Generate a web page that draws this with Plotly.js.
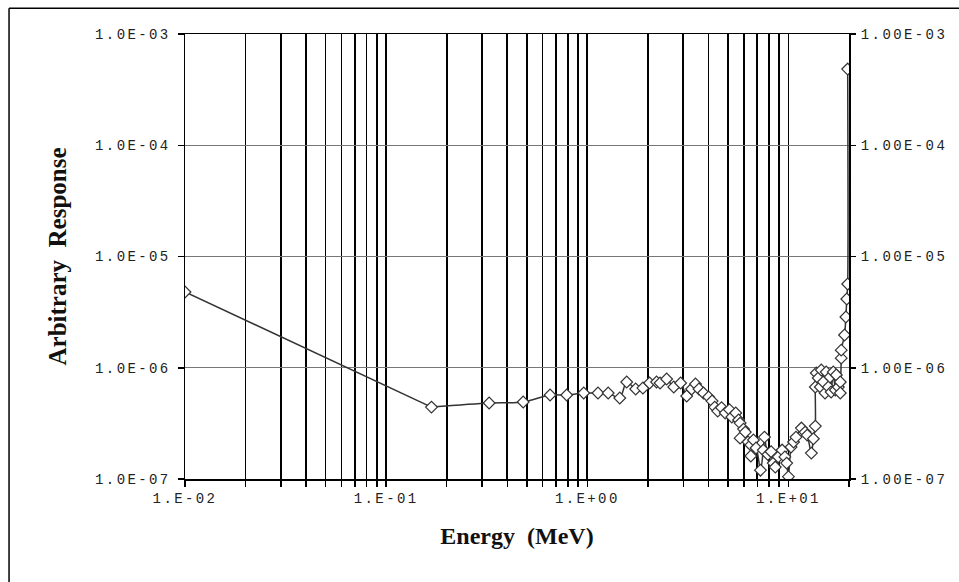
<!DOCTYPE html>
<html>
<head>
<meta charset="utf-8">
<script src="https://cdn.plot.ly/plotly-3.0.1.min.js"></script>
<style>
html,body{margin:0;padding:0;background:#fff;}
#chart{width:959px;height:582px;}
.xtick text, .ytick text, .y2tick text{letter-spacing:2.4px;}
</style>
</head>
<body>
<div id="chart"></div>
<script>
// Energy (MeV)
const energy = [0.01, 0.168, 0.325, 0.48, 0.653, 0.79, 0.96, 1.13, 1.27, 1.45, 1.57, 1.74, 1.89, 2.04, 2.21, 2.3, 2.48, 2.69, 2.91, 3.12, 3.30, 3.45, 3.59, 3.78, 4.01, 4.17, 4.30, 4.45, 4.65, 4.85, 5.09, 5.23, 5.47, 5.65, 5.75, 5.98, 5.75, 6.10, 6.3, 6.5, 6.7, 6.5, 6.9, 7.26, 7.5, 7.6, 7.9, 8.2, 8.4, 8.6, 8.9, 9.3, 9.6, 9.8, 10.0, 10.3, 10.6, 10.9, 11.6, 12.1, 12.4, 13.0, 13.3, 13.6, 13.6, 13.75, 14.06, 14.4, 14.56, 14.9, 15.2, 15.4, 15.8, 16.1, 16.3, 16.7, 17.1, 17.3, 17.7, 18.1, 18.1, 18.3, 18.3, 19.0, 19.3, 19.5, 19.7, 19.7];
// Arbitrary response
const response = [4.8e-6, 4.43e-7, 4.82e-7, 4.92e-7, 5.69e-7, 5.69e-7, 5.93e-7, 5.93e-7, 5.93e-7, 5.35e-7, 7.44e-7, 6.44e-7, 6.57e-7, 7.29e-7, 7.44e-7, 7.29e-7, 7.92e-7, 6.71e-7, 7.29e-7, 5.57e-7, 6.44e-7, 7.15e-7, 6.44e-7, 5.93e-7, 5.46e-7, 5.02e-7, 4.43e-7, 4.08e-7, 4.38e-7, 3.92e-7, 4.2e-7, 3.61e-7, 3.92e-7, 3.39e-7, 3.18e-7, 2.81e-7, 2.33e-7, 2.64e-7, 2.15e-7, 2.02e-7, 2.24e-7, 1.61e-7, 1.90e-7, 1.2e-7, 1.82e-7, 2.38e-7, 1.66e-7, 1.76e-7, 1.39e-7, 1.28e-7, 1.58e-7, 1.82e-7, 1.58e-7, 1.39e-7, 1.05e-7, 1.94e-7, 2.15e-7, 2.38e-7, 2.87e-7, 2.64e-7, 2.48e-7, 1.71e-7, 2.3e-7, 2.99e-7, 6.71e-7, 8.97e-7, 8.09e-7, 6.71e-7, 9.55e-7, 7.45e-7, 5.93e-7, 9.16e-7, 6.71e-7, 8.26e-7, 6.05e-7, 9.16e-7, 6.31e-7, 8.61e-7, 6.71e-7, 7.45e-7, 5.93e-7, 1.22e-6, 1.44e-6, 1.97e-6, 2.86e-6, 4.15e-6, 5.66e-6, 4.84e-4];

const xTickVals = [0.01, 0.1, 1, 10];
const xTickText = ["1.E-02", "1.E-01", "1.E+00", "1.E+01"];
const yTickVals = [1e-7, 1e-6, 1e-5, 1e-4, 1e-3];
const yTickTextLeft = ["1.0E-07", "1.0E-06", "1.0E-05", "1.0E-04", "1.0E-03"];
const yTickTextRight = ["1.00E-07", "1.00E-06", "1.00E-05", "1.00E-04", "1.00E-03"];

// minor grid positions (2..9 in each decade)
const xMinor = [];
[0.01, 0.1, 1, 10].forEach(d => { for (let k = 2; k <= 9; k++) { const v = d * k; if (v <= 20) xMinor.push(v); } });

const monoFont = {family: "Liberation Mono, Courier New, monospace", size: 14, color: "#222"};
const lineColor = "#333";
const markerStyle = {symbol: "diamond", size: 9, color: "#fff", line: {color: "#333", width: 1.2}};

// first (straight) segment, then the smoothed remainder
const traceA = {
  x: energy.slice(0, 2), y: response.slice(0, 2), type: "scatter", mode: "lines",
  line: {color: lineColor, width: 1.5}, showlegend: false, hoverinfo: "skip"
};
const traceB = {
  x: energy.slice(1), y: response.slice(1), type: "scatter", mode: "lines",
  line: {color: lineColor, width: 1.5, shape: "spline", smoothing: 0.8},
  showlegend: false, hoverinfo: "skip"
};
const traceM = {
  x: energy, y: response, type: "scatter", mode: "markers",
  marker: markerStyle, showlegend: false, hoverinfo: "skip"
};
const traceR = {x: [], y: [], yaxis: "y2", type: "scatter", showlegend: false, hoverinfo: "skip"};

const layout = {
  width: 959, height: 582,
  margin: {l: 185, r: 110, t: 34, b: 103},
  paper_bgcolor: "#fff", plot_bgcolor: "#fff",
  showlegend: false,
  xaxis: {
    type: "log", range: [-2, Math.log10(20)],
    tickmode: "array", tickvals: xTickVals, ticktext: xTickText,
    tickfont: monoFont,
    ticks: "outside", ticklen: 6, tickwidth: 1.5, tickcolor: "#000",
    showgrid: true, gridcolor: "#000", gridwidth: 1.6,
    minor: {tickmode: "array", tickvals: xMinor, ticks: "outside", ticklen: 6, tickwidth: 1.5, tickcolor: "#000", showgrid: true, gridcolor: "#000", gridwidth: 1.6},
    showline: true, linecolor: "#000", linewidth: 1.5, mirror: true,
    zeroline: false,
    title: {text: "Energy  (MeV)", standoff: 21, font: {family: "Liberation Serif, Times New Roman, serif", size: 24, color: "#111", weight: "bold"}}
  },
  yaxis: {
    type: "log", range: [-7, -3],
    tickmode: "array", tickvals: yTickVals, ticktext: yTickTextLeft,
    tickfont: monoFont, ticklabelstandoff: 4,
    ticks: "outside", ticklen: 6, tickwidth: 1.5, tickcolor: "#000",
    showgrid: true, gridcolor: "#777", gridwidth: 1,
    showline: true, linecolor: "#000", linewidth: 1.5, mirror: true,
    zeroline: false,
    title: {text: "Arbitrary  Response", standoff: 21, font: {family: "Liberation Serif, Times New Roman, serif", size: 25, color: "#111", weight: "bold"}}
  },
  yaxis2: {
    type: "log", range: [-7, -3], overlaying: "y", side: "right", anchor: "x",
    tickmode: "array", tickvals: yTickVals, ticktext: yTickTextRight,
    tickfont: monoFont, ticklabelstandoff: 2,
    ticks: "outside", ticklen: 6, tickwidth: 1.5, tickcolor: "#000",
    showgrid: false, zeroline: false, showline: false
  },
  shapes: [
    {type: "line", xref: "paper", yref: "paper", x0: -0.265, x1: -0.265, y0: 1.058, y1: -0.25, line: {color: "#000", width: 1.5}},
    {type: "line", xref: "paper", yref: "paper", x0: -0.265, x1: 1.2, y0: 1.058, y1: 1.058, line: {color: "#000", width: 1.5}}
  ]
};

Plotly.newPlot("chart", [traceA, traceB, traceM, traceR], layout, {displayModeBar: false, staticPlot: true});
</script>
</body>
</html>
